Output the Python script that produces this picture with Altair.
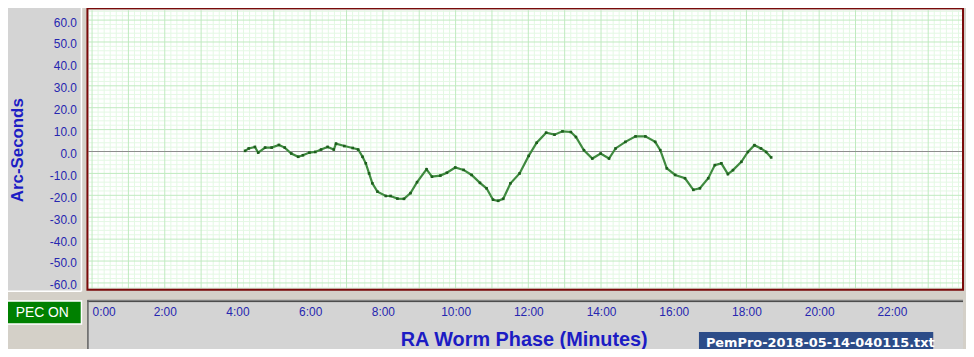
import altair as alt
import pandas as pd

# ---- data ----
minutes = [4.21, 4.31, 4.48, 4.57, 4.76, 4.94, 5.14, 5.30, 5.48, 5.67, 5.80, 5.98,
           6.14, 6.30, 6.48, 6.65, 6.71, 6.94, 7.17, 7.32, 7.44, 7.53, 7.62, 7.71,
           7.85, 8.08, 8.21, 8.40, 8.58, 8.76, 8.94, 9.20, 9.35, 9.58, 9.76, 9.99,
           10.22, 10.44, 10.67, 10.85, 11.03, 11.17, 11.31, 11.51, 11.76, 12.01,
           12.23, 12.49, 12.72, 12.94, 13.17, 13.31, 13.53, 13.76, 13.99, 14.22,
           14.40, 14.67, 14.95, 15.22, 15.49, 15.63, 15.81, 16.04, 16.31, 16.54,
           16.72, 16.95, 17.13, 17.31, 17.49, 17.63, 17.86, 18.04, 18.22, 18.40,
           18.54, 18.68]
arcsec = [0.3, 1.4, 2.1, -0.5, 1.8, 1.8, 3.0, 1.8, -0.9, -2.4, -1.7, -0.5,
          -0.2, 0.9, 2.1, 0.9, 3.6, 2.5, 1.6, 0.9, -2.4, -5.4, -10.0, -14.5,
          -18.3, -20.3, -20.3, -21.5, -21.6, -19.0, -14.0, -8.1, -11.5, -11.0, -9.7, -7.3,
          -8.4, -10.7, -14.3, -16.8, -22.0, -22.5, -21.6, -14.5, -10.0, -2.0,
          4.0, 8.6, 7.7, 9.2, 8.9, 6.6, 0.6, -3.2, -0.9, -3.2,
          1.4, 4.4, 6.9, 6.9, 4.4, 0.6, -7.7, -10.7, -12.2, -17.5,
          -16.8, -12.2, -6.2, -5.4, -10.3, -8.5, -4.7, -0.2, 2.9, 1.4,
          -0.2, -2.7]
y_ticks = [60, 50, 40, 30, 20, 10, 0, -10, -20, -30, -40, -50, -60]
x_ticks = [0, 2, 4, 6, 8, 10, 12, 14, 16, 18, 20, 22]
y_title = "Arc-Seconds"
x_title = "RA Worm Phase (Minutes)"
pec_text = "PEC ON"
file_name = "PemPro-2018-05-14-040115.txt"

X_DOMAIN = [-0.1, 23.93]
Y_DOMAIN = [-62.4, 64.5]
W, H = 880, 280

LABEL_BLUE = "#2626b0"
TITLE_BLUE = "#1c1cc4"
BG = "#d4d0c8"
PANEL = "#d4d4d4"

xs = alt.Scale(domain=X_DOMAIN, nice=False, zero=False)
ys = alt.Scale(domain=Y_DOMAIN, nice=False, zero=False)

df = pd.DataFrame({"m": minutes, "v": arcsec})
minor_v = pd.DataFrame({"m": [i / 6 for i in range(0, 144) if i % 6]})
major_v = pd.DataFrame({"m": list(range(0, 24))})
minor_h = pd.DataFrame({"v": [v for v in range(-62, 65, 2) if v % 10]})
major_h = pd.DataFrame({"v": [v for v in y_ticks if v != 0]})
zero_h = pd.DataFrame({"v": [0]})
one = pd.DataFrame({"a": [0]})

x_axis = alt.Axis(values=x_ticks, labelExpr="datum.value + ':00'", grid=False,
                  ticks=False, domain=False, labelPadding=19, labelFont="Liberation Sans",
                  labelFontSize=12, labelColor=LABEL_BLUE, title=None, zindex=2,
                  labelFlush=5, labelOverlap=False, labelBound=False)
y_axis = alt.Axis(values=y_ticks,
                  labelExpr="(datum.value < 0 ? '-' : '') + format(abs(datum.value), '.1f')",
                  grid=False, ticks=False, domain=False, labelPadding=12, labelOffset=2,
                  labelFont="Liberation Sans", labelFontSize=12, labelColor=LABEL_BLUE,
                  title=None, zindex=2, labelOverlap=False, labelBound=False)


def vrules(data, color, width=1):
    return alt.Chart(data).mark_rule(color=color, strokeWidth=width).encode(
        x=alt.X("m:Q", scale=xs, axis=x_axis))


def hrules(data, color, width=1):
    return alt.Chart(data).mark_rule(color=color, strokeWidth=width).encode(
        y=alt.Y("v:Q", scale=ys, axis=y_axis))


def prect(x1, x2, y1, y2, **kw):
    return alt.Chart(one).mark_rect(**kw).encode(
        x=alt.value(x1), x2=alt.value(x2), y=alt.value(y1), y2=alt.value(y2))


def hline(x1, x2, y, color, width=1):
    return alt.Chart(one).mark_rule(color=color, strokeWidth=width).encode(
        x=alt.value(x1), x2=alt.value(x2), y=alt.value(y))


def vline(x, y1, y2, color, width=1):
    return alt.Chart(one).mark_rule(color=color, strokeWidth=width).encode(
        x=alt.value(x), y=alt.value(y1), y2=alt.value(y2))


def ptext(txt, x, y, **kw):
    return alt.Chart(one).mark_text(text=txt, **kw).encode(
        x=alt.value(x), y=alt.value(y))


layers = [
    # grid
    vrules(minor_v, "#e4f8e4"),
    hrules(minor_h, "#e4f8e4"),
    vrules(major_v, "#bfeabf"),
    hrules(major_h, "#bfeabf"),
    hrules(zero_h, "#8c8c8c"),
    # data
    alt.Chart(df).mark_line(color="#3f8a3f", strokeWidth=2.2).encode(
        x=alt.X("m:Q", scale=xs, axis=x_axis),
        y=alt.Y("v:Q", scale=ys, axis=y_axis)),
    alt.Chart(df).mark_point(shape="square", filled=True, size=7, color="#1d5e1d",
                             opacity=1).encode(
        x=alt.X("m:Q", scale=xs, axis=x_axis),
        y=alt.Y("v:Q", scale=ys, axis=y_axis)),
    # plot border
    prect(-1, 881, -2, 281.5, filled=False, stroke="#7a0a0a", strokeWidth=2),
    # left (y label) panel
    prect(-86, -7, -3, 283, fill=PANEL),
    hline(-86, -7, -3, "#808080"),
    vline(-7, -3, 283, "#ffffff", 1.5),
    hline(-86, -7, 283, "#ffffff", 1.5),
    # bottom (x label) panel
    prect(-1, 881, 292, 345, fill=PANEL),
    hline(-1, 881, 292.5, "#808080", 1.5),
    hline(-1, 881, 293.5, "#404040", 1),
    vline(-0.5, 292, 345, "#606060", 1.5),
    # PEC ON box
    prect(-86, -7, 293, 316, fill="#008000", stroke="#ffffff", strokeWidth=1.5),
    ptext(pec_text, -46.5, 305, font="Liberation Sans", fontSize=14, color="#ffffff",
          align="center", baseline="middle"),
    # titles
    ptext(y_title, -71, 141, font="Liberation Sans", fontSize=17, fontWeight="bold",
          color=TITLE_BLUE, angle=270, align="center", baseline="middle"),
    ptext(x_title, 439, 332, font="Liberation Sans", fontSize=20, fontWeight="bold",
          color=TITLE_BLUE, align="center", baseline="middle"),
    # file name box
    prect(615, 851, 324, 345, fill="#2c4c88"),
    ptext(file_name, 622, 335, font="DejaVu Sans", fontSize=13, fontWeight="bold",
          color="#ffffff", align="left", baseline="middle"),
]

chart = alt.layer(*layers).properties(
    width=W, height=H,
    autosize=alt.AutoSizeParams(type="none"),
    padding={"left": 81, "top": 1, "right": 4, "bottom": 60},
    background=BG,
).configure_view(fill="#ffffff", stroke=None)

chart.save("out.html", embed_options={"renderer": "svg", "actions": False})
